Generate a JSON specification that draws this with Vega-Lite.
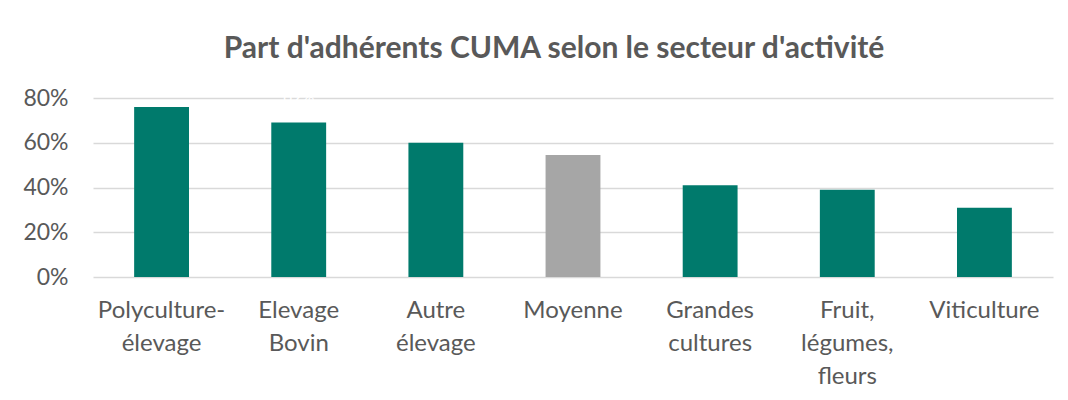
{
  "$schema": "https://vega.github.io/schema/vega-lite/v6.json",
  "autosize": "none",
  "width": 960,
  "height": 179,
  "padding": {"left": 93, "top": 98, "right": 15, "bottom": 123},
  "background": "white",
  "title": {
    "text": "Part d'adhérents CUMA selon le secteur d'activité",
    "font": "Lato",
    "fontSize": 30,
    "fontWeight": "bold",
    "color": "#595959",
    "anchor": "middle",
    "dx": -19,
    "offset": 9
  },
  "data": {
    "values": [
      {"secteur": "Polyculture-élevage", "part": 0.76, "type": "secteur"},
      {"secteur": "Elevage Bovin", "part": 0.69, "type": "secteur"},
      {"secteur": "Autre élevage", "part": 0.60, "type": "secteur"},
      {"secteur": "Moyenne", "part": 0.545, "type": "moyenne"},
      {"secteur": "Grandes cultures", "part": 0.41, "type": "secteur"},
      {"secteur": "Fruit, légumes, fleurs", "part": 0.39, "type": "secteur"},
      {"secteur": "Viticulture", "part": 0.31, "type": "secteur"}
    ]
  },
  "encoding": {
    "x": {
      "field": "secteur",
      "type": "nominal",
      "sort": null,
      "scale": {"paddingInner": 0.6, "paddingOuter": 0.3},
      "axis": {
        "title": null,
        "labelAngle": 0,
        "labelFont": "Lato",
        "labelFontSize": 24,
        "labelColor": "#595959",
        "labelPadding": 21,
        "labelLineHeight": 33,
        "labelBaseline": "top",
        "labelExpr": "datum.label == 'Polyculture-élevage' ? ['Polyculture-', 'élevage'] : split(datum.label, ' ')",
        "ticks": false,
        "domain": false
      }
    },
    "y": {
      "field": "part",
      "type": "quantitative",
      "scale": {"domain": [0, 0.8]},
      "axis": {
        "title": null,
        "format": ".0%",
        "values": [0, 0.2, 0.4, 0.6, 0.8],
        "labelFont": "Lato",
        "labelFontSize": 23,
        "labelColor": "#595959",
        "labelPadding": 25,
        "ticks": false,
        "domain": false,
        "grid": true,
        "gridColor": "#D9D9D9",
        "gridWidth": 1.5
      }
    }
  },
  "layer": [
    {
      "mark": {"type": "bar"},
      "encoding": {
        "color": {
          "field": "type",
          "type": "nominal",
          "scale": {"domain": ["secteur", "moyenne"], "range": ["#007A6C", "#A6A6A6"]},
          "legend": null
        }
      }
    },
    {
      "mark": {"type": "text", "color": "white", "font": "Lato", "fontSize": 16, "dy": -26},
      "encoding": {
        "text": {"field": "part", "type": "quantitative", "format": ".0%"}
      }
    }
  ],
  "config": {
    "view": {"stroke": null}
  }
}
